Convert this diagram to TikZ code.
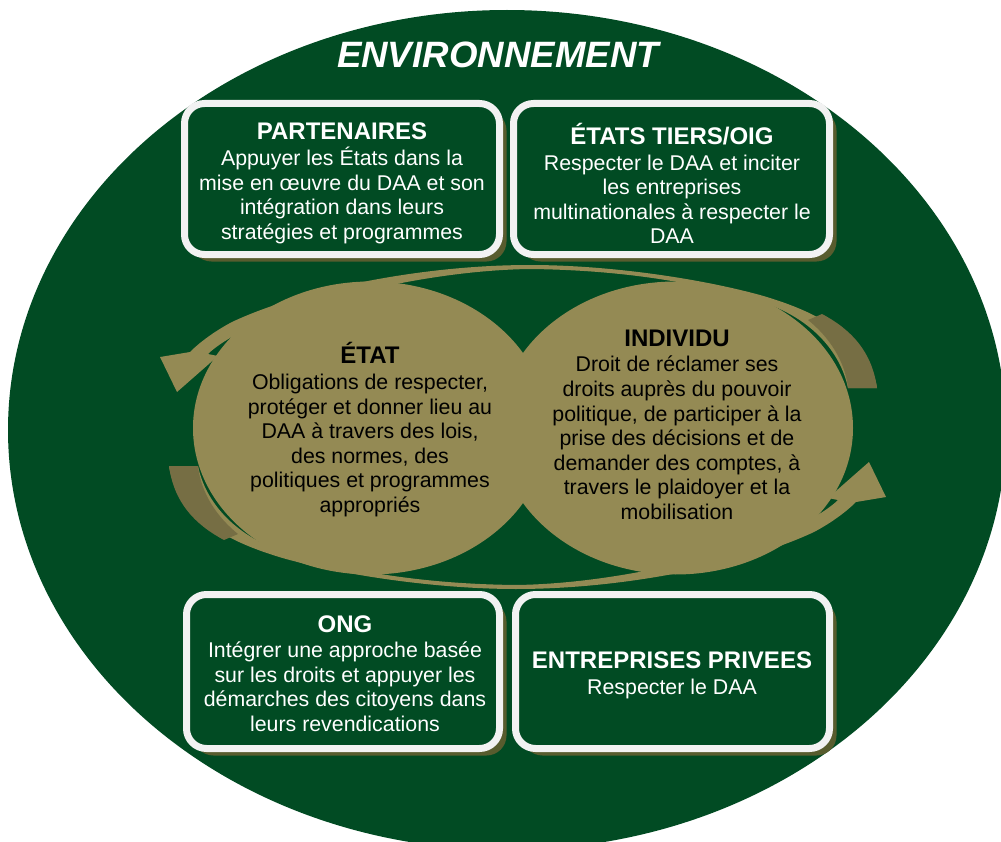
\documentclass[tikz,border=0pt]{standalone}
\usepackage{fontspec}
\setmainfont{Liberation Sans}
\usetikzlibrary{shapes.geometric,shadows}
\definecolor{envgreen}{RGB}{1,75,35}
\definecolor{tanfill}{RGB}{148,138,84}
\definecolor{tandark}{RGB}{118,110,68}
\definecolor{boxwhite}{RGB}{242,242,242}
\definecolor{shadowcol}{RGB}{88,92,46}
\newcommand{\envbody}{\fontsize{16}{18.4}\selectfont}
\newcommand{\envhead}{\fontsize{18}{20.7}\selectfont\bfseries}
\begin{document}
\begin{tikzpicture}[x=0.75pt,y=-0.75pt,
  actorbox/.style={draw=boxwhite, line width=5.25pt, fill=envgreen, rounded corners=15pt,
    inner sep=0pt,
    drop shadow={shadow xshift=5.25pt, shadow yshift=-5.25pt, fill=shadowcol, opacity=1}},
  boxtext/.style={text=white, align=center, inner sep=0pt, font=\envbody},
  actorell/.style={ellipse, fill=tanfill, inner sep=0pt},
  elltext/.style={text=black, align=center, inner sep=0pt, font=\envbody},
  titletext/.style={text=white, font=\fontsize{27.5}{31}\selectfont\bfseries\itshape}]
\useasboundingbox (0,0) rectangle (1001,842);
\clip (0,0) rectangle (1001,842);
% environment
\fill[envgreen] (507,430) ellipse [x radius=499, y radius=420];
\node[titletext] (title) at (498,55) {ENVIRONNEMENT};
% curved arrows (top one, and the same turned half round)
\foreach \ang in {0,180}{
\begin{scope}[rotate around={\ang:(523,427)}]
\fill[tanfill] (877,388) .. controls (870,345) and (830,315) .. (760,295)
  .. controls (690,276) and (600,265) .. (530,265)
  .. controls (420,265) and (300,290) .. (232,322)
  .. controls (215,331) and (200,342) .. (190,352)
  -- (160,357) -- (177,392) -- (218,356) -- (208,354)
  .. controls (222,340) and (260,320) .. (300,308)
  .. controls (380,284) and (460,270) .. (530,269)
  .. controls (620,270) and (700,282) .. (770,305)
  .. controls (810,320) and (840,350) .. (848,388) -- cycle;
\fill[tandark] (877,388) .. controls (872,352) and (852,330) .. (822,314)
  -- (808,320) .. controls (828,336) and (845,360) .. (848,388) -- cycle;
\end{scope}}
% state and individual
\node[actorell, minimum width=266.25pt, minimum height=219.75pt] (etat) at (370.5,428) {};
\node[actorell, minimum width=266.25pt, minimum height=219.75pt] (individu) at (675.5,428) {};
\node[elltext] (etat-text) at (370,429.5)
  {{\envhead ÉTAT}\\[1pt]Obligations de respecter,\\protéger et donner lieu au\\DAA à travers des lois,\\des normes, des\\politiques et programmes\\appropriés};
\node[elltext] (individu-text) at (677,424.5)
  {{\envhead INDIVIDU}\\[1pt]Droit de réclamer ses\\droits auprès du pouvoir\\politique, de participer à la\\prise des décisions et de\\demander des comptes, à\\travers le plaidoyer et la\\mobilisation};
% actors
\node[actorbox, minimum width=236.25pt, minimum height=113.25pt] (partenaires) at (342,179) {};
\node[actorbox, minimum width=237pt, minimum height=113.25pt] (tiers) at (671.5,179) {};
\node[actorbox, minimum width=234.75pt, minimum height=115.5pt] (ong) at (343,671.5) {};
\node[actorbox, minimum width=235.5pt, minimum height=115.5pt] (entreprises) at (672.5,671.5) {};
\node[boxtext] (partenaires-text) at (342,183.5)
  {{\envhead PARTENAIRES}\\[1pt]Appuyer les États dans la\\mise en œuvre du DAA et son\\intégration dans leurs\\stratégies et programmes};
\node[boxtext] (tiers-text) at (672,183.5)
  {{\envhead ÉTATS TIERS/OIG}\\[1pt]Respecter le DAA et inciter\\les entreprises\\multinationales à respecter le\\DAA};
\node[boxtext] (ong-text) at (345,673.5)
  {{\envhead ONG}\\[1pt]Intégrer une approche basée\\sur les droits et appuyer les\\démarches des citoyens dans\\leurs revendications};
\node[boxtext] (entreprises-text) at (672,675.5)
  {{\envhead ENTREPRISES PRIVEES}\\[1pt]Respecter le DAA};
\end{tikzpicture}
\end{document}
